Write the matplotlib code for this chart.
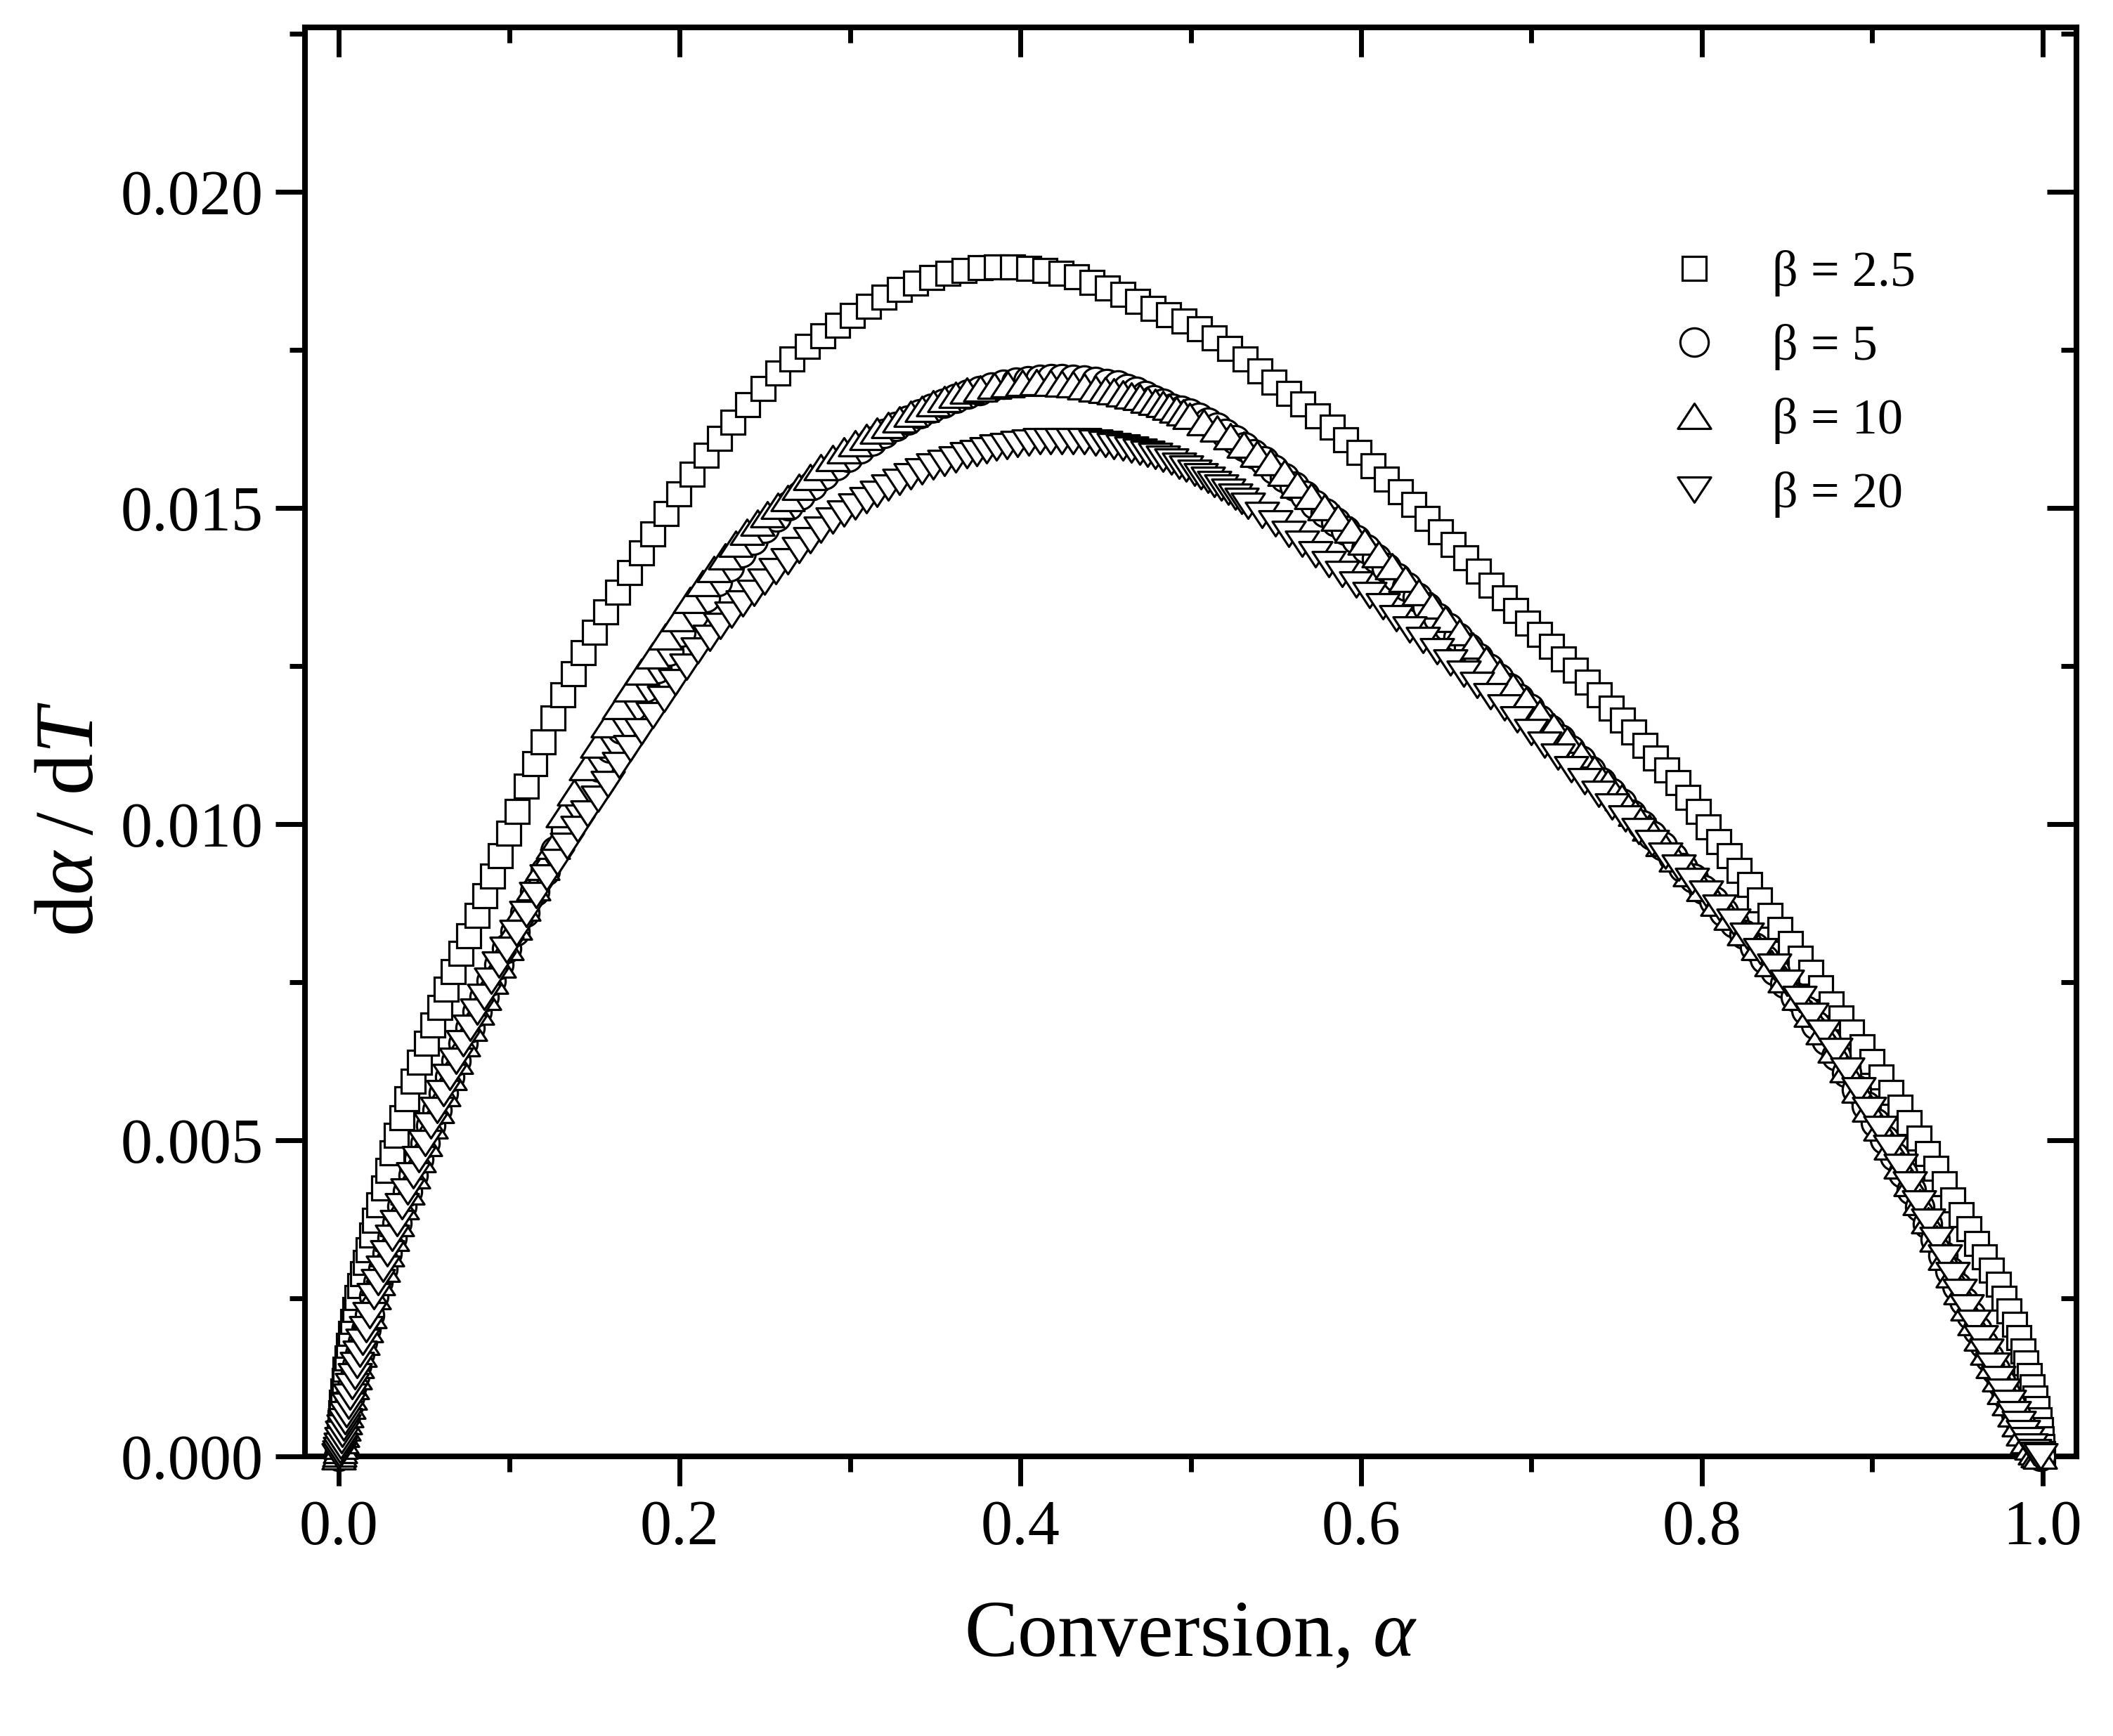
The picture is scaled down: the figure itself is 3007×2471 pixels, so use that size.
import matplotlib
matplotlib.use("Agg")
import matplotlib.pyplot as plt
from matplotlib.path import Path
from matplotlib.markers import MarkerStyle
from matplotlib.ticker import MultipleLocator, FormatStrFormatter

plt.rcParams['font.family'] = ['Liberation Serif', 'DejaVu Serif']
plt.rcParams['mathtext.fontset'] = 'custom'
plt.rcParams['mathtext.rm'] = 'Liberation Serif'
plt.rcParams['mathtext.it'] = 'Liberation Serif:italic'

# ---------------- data ----------------
labels = ["\u03b2 = 2.5", "\u03b2 = 5", "\u03b2 = 10", "\u03b2 = 20"]

alpha_b25 = [
    0.0000, 0.0001, 0.0002, 0.0004, 0.0007, 0.0011, 0.0016, 0.0022, 0.0029, 0.0037,
    0.0046, 0.0056, 0.0067, 0.0079, 0.0092, 0.0106, 0.0121, 0.0137, 0.0153, 0.0170,
    0.0190, 0.0210, 0.0235, 0.0260, 0.0285, 0.0310, 0.0338, 0.0368, 0.0400, 0.0434,
    0.0472, 0.0513, 0.0552, 0.0592, 0.0631, 0.0671, 0.0717, 0.0763, 0.0809, 0.0855,
    0.0900, 0.0945, 0.0995, 0.1045, 0.1100, 0.1150, 0.1200, 0.1258, 0.1316, 0.1375,
    0.1435, 0.1500, 0.1566, 0.1636, 0.1706, 0.1775, 0.1843, 0.1920, 0.1996, 0.2075,
    0.2154, 0.2233, 0.2312, 0.2400, 0.2489, 0.2575, 0.2660, 0.2750, 0.2839, 0.2927,
    0.3015, 0.3108, 0.3200, 0.3292, 0.3384, 0.3480, 0.3576, 0.3671, 0.3766, 0.3860,
    0.3955, 0.4050, 0.4145, 0.4240, 0.4330, 0.4420, 0.4510, 0.4600, 0.4690, 0.4780,
    0.4870, 0.4960, 0.5050, 0.5140, 0.5230, 0.5318, 0.5405, 0.5490, 0.5575, 0.5660,
    0.5745, 0.5830, 0.5910, 0.5990, 0.6070, 0.6150, 0.6230, 0.6310, 0.6390, 0.6465,
    0.6540, 0.6615, 0.6690, 0.6765, 0.6840, 0.6910, 0.6980, 0.7050, 0.7120, 0.7190,
    0.7260, 0.7330, 0.7400, 0.7470, 0.7535, 0.7600, 0.7665, 0.7730, 0.7795, 0.7860,
    0.7920, 0.7980, 0.8040, 0.8100, 0.8160, 0.8220, 0.8280, 0.8340, 0.8400, 0.8460,
    0.8520, 0.8580, 0.8640, 0.8700, 0.8760, 0.8820, 0.8880, 0.8940, 0.9000, 0.9055,
    0.9110, 0.9165, 0.9220, 0.9275, 0.9325, 0.9375, 0.9425, 0.9475, 0.9525, 0.9570,
    0.9615, 0.9660, 0.9700, 0.9740, 0.9775, 0.9805, 0.9835, 0.9860, 0.9885, 0.9905,
    0.9925, 0.9942, 0.9957, 0.9970, 0.9980, 0.9988, 0.9994, 0.9998, 1.0000,
]
rate_b25 = [
    0.00000, 0.00012, 0.00024, 0.00038, 0.00053, 0.00069, 0.00086, 0.00103, 0.00120, 0.00138,
    0.00156, 0.00175, 0.00194, 0.00213, 0.00232, 0.00251, 0.00270, 0.00289, 0.00307, 0.00327,
    0.00350, 0.00373, 0.00398, 0.00424, 0.00452, 0.00480, 0.00508, 0.00536, 0.00565, 0.00593,
    0.00623, 0.00653, 0.00682, 0.00710, 0.00739, 0.00767, 0.00795, 0.00823, 0.00855, 0.00887,
    0.00918, 0.00950, 0.00985, 0.01020, 0.01060, 0.01095, 0.01130, 0.01168, 0.01204, 0.01238,
    0.01271, 0.01303, 0.01335, 0.01367, 0.01398, 0.01429, 0.01459, 0.01491, 0.01522, 0.01553,
    0.01583, 0.01610, 0.01636, 0.01663, 0.01689, 0.01713, 0.01735, 0.01755, 0.01772, 0.01789,
    0.01804, 0.01819, 0.01833, 0.01845, 0.01856, 0.01864, 0.01871, 0.01876, 0.01880, 0.01881,
    0.01881, 0.01879, 0.01876, 0.01871, 0.01865, 0.01857, 0.01848, 0.01838, 0.01827, 0.01816,
    0.01805, 0.01795, 0.01783, 0.01769, 0.01752, 0.01735, 0.01717, 0.01699, 0.01681, 0.01664,
    0.01646, 0.01628, 0.01608, 0.01588, 0.01567, 0.01546, 0.01526, 0.01505, 0.01483, 0.01462,
    0.01442, 0.01421, 0.01400, 0.01378, 0.01358, 0.01338, 0.01318, 0.01300, 0.01281, 0.01261,
    0.01243, 0.01224, 0.01204, 0.01183, 0.01164, 0.01145, 0.01124, 0.01104, 0.01085, 0.01065,
    0.01042, 0.01020, 0.00996, 0.00972, 0.00950, 0.00927, 0.00904, 0.00880, 0.00856, 0.00833,
    0.00811, 0.00788, 0.00765, 0.00741, 0.00716, 0.00693, 0.00671, 0.00648, 0.00624, 0.00600,
    0.00576, 0.00552, 0.00528, 0.00503, 0.00479, 0.00455, 0.00431, 0.00406, 0.00382, 0.00360,
    0.00337, 0.00315, 0.00294, 0.00272, 0.00250, 0.00230, 0.00209, 0.00188, 0.00167, 0.00148,
    0.00128, 0.00110, 0.00092, 0.00075, 0.00058, 0.00042, 0.00028, 0.00015, 0.00004,
]

alpha_b5 = [
    0.0000, 0.0002, 0.0005, 0.0009, 0.0014, 0.0020, 0.0027, 0.0035, 0.0044, 0.0054,
    0.0065, 0.0078, 0.0092, 0.0107, 0.0123, 0.0140, 0.0158, 0.0178, 0.0205, 0.0230,
    0.0256, 0.0284, 0.0312, 0.0340, 0.0370, 0.0402, 0.0435, 0.0470, 0.0505, 0.0540,
    0.0575, 0.0612, 0.0650, 0.0688, 0.0728, 0.0768, 0.0810, 0.0852, 0.0895, 0.0940,
    0.0985, 0.1035, 0.1090, 0.1150, 0.1210, 0.1270, 0.1330, 0.1395, 0.1460, 0.1525,
    0.1590, 0.1655, 0.1724, 0.1795, 0.1865, 0.1935, 0.2008, 0.2080, 0.2150, 0.2220,
    0.2290, 0.2360, 0.2430, 0.2500, 0.2570, 0.2640, 0.2710, 0.2780, 0.2850, 0.2920,
    0.2990, 0.3060, 0.3130, 0.3200, 0.3270, 0.3340, 0.3410, 0.3480, 0.3550, 0.3620,
    0.3690, 0.3760, 0.3830, 0.3900, 0.3975, 0.4047, 0.4115, 0.4180, 0.4245, 0.4311,
    0.4375, 0.4440, 0.4507, 0.4574, 0.4627, 0.4680, 0.4732, 0.4784, 0.4837, 0.4890,
    0.4943, 0.4995, 0.5048, 0.5100, 0.5153, 0.5206, 0.5260, 0.5315, 0.5370, 0.5430,
    0.5490, 0.5550, 0.5610, 0.5670, 0.5730, 0.5790, 0.5850, 0.5910, 0.5970, 0.6030,
    0.6090, 0.6150, 0.6210, 0.6270, 0.6330, 0.6390, 0.6450, 0.6510, 0.6570, 0.6630,
    0.6690, 0.6750, 0.6810, 0.6870, 0.6930, 0.6990, 0.7050, 0.7110, 0.7170, 0.7230,
    0.7290, 0.7350, 0.7410, 0.7470, 0.7530, 0.7590, 0.7650, 0.7710, 0.7770, 0.7830,
    0.7890, 0.7950, 0.8010, 0.8070, 0.8130, 0.8190, 0.8250, 0.8310, 0.8370, 0.8430,
    0.8490, 0.8550, 0.8610, 0.8670, 0.8730, 0.8790, 0.8850, 0.8910, 0.8965, 0.9020,
    0.9075, 0.9130, 0.9180, 0.9230, 0.9280, 0.9325, 0.9370, 0.9415, 0.9458, 0.9500,
    0.9540, 0.9580, 0.9618, 0.9655, 0.9690, 0.9724, 0.9757, 0.9788, 0.9818, 0.9846,
    0.9872, 0.9897, 0.9920, 0.9941, 0.9960, 0.9976, 0.9988,
]
rate_b5 = [
    0.00000, 0.00004, 0.00010, 0.00017, 0.00026, 0.00036, 0.00045, 0.00055, 0.00067, 0.00080,
    0.00094, 0.00111, 0.00127, 0.00144, 0.00162, 0.00181, 0.00201, 0.00223, 0.00253, 0.00275,
    0.00297, 0.00321, 0.00345, 0.00369, 0.00395, 0.00419, 0.00444, 0.00470, 0.00496, 0.00523,
    0.00548, 0.00574, 0.00600, 0.00626, 0.00653, 0.00678, 0.00703, 0.00727, 0.00752, 0.00778,
    0.00803, 0.00830, 0.00860, 0.00893, 0.00926, 0.00958, 0.00990, 0.01025, 0.01058, 0.01090,
    0.01120, 0.01150, 0.01185, 0.01215, 0.01245, 0.01273, 0.01303, 0.01331, 0.01358, 0.01383,
    0.01407, 0.01429, 0.01449, 0.01468, 0.01486, 0.01503, 0.01520, 0.01536, 0.01552, 0.01567,
    0.01580, 0.01593, 0.01606, 0.01618, 0.01629, 0.01639, 0.01649, 0.01658, 0.01666, 0.01673,
    0.01680, 0.01686, 0.01691, 0.01695, 0.01699, 0.01701, 0.01703, 0.01704, 0.01704, 0.01703,
    0.01702, 0.01700, 0.01697, 0.01694, 0.01689, 0.01684, 0.01678, 0.01671, 0.01665, 0.01658,
    0.01654, 0.01650, 0.01643, 0.01636, 0.01628, 0.01618, 0.01608, 0.01597, 0.01586, 0.01574,
    0.01561, 0.01548, 0.01534, 0.01520, 0.01506, 0.01492, 0.01478, 0.01464, 0.01450, 0.01435,
    0.01420, 0.01405, 0.01390, 0.01375, 0.01359, 0.01343, 0.01327, 0.01311, 0.01295, 0.01279,
    0.01263, 0.01247, 0.01231, 0.01215, 0.01199, 0.01183, 0.01166, 0.01150, 0.01134, 0.01118,
    0.01101, 0.01084, 0.01067, 0.01050, 0.01033, 0.01016, 0.00999, 0.00982, 0.00965, 0.00948,
    0.00931, 0.00914, 0.00897, 0.00879, 0.00861, 0.00843, 0.00825, 0.00806, 0.00787, 0.00768,
    0.00748, 0.00727, 0.00705, 0.00682, 0.00658, 0.00633, 0.00607, 0.00580, 0.00554, 0.00528,
    0.00501, 0.00474, 0.00448, 0.00421, 0.00394, 0.00368, 0.00343, 0.00318, 0.00293, 0.00269,
    0.00246, 0.00223, 0.00200, 0.00178, 0.00157, 0.00137, 0.00117, 0.00098, 0.00081, 0.00065,
    0.00050, 0.00036, 0.00024, 0.00014, 0.00007, 0.00002, 0.00000,
]

alpha_b10 = [
    0.0000, 0.0002, 0.0005, 0.0009, 0.0014, 0.0020, 0.0027, 0.0035, 0.0044, 0.0054,
    0.0065, 0.0078, 0.0092, 0.0107, 0.0123, 0.0140, 0.0158, 0.0178, 0.0205, 0.0230,
    0.0256, 0.0284, 0.0312, 0.0340, 0.0370, 0.0402, 0.0435, 0.0470, 0.0505, 0.0540,
    0.0575, 0.0612, 0.0650, 0.0688, 0.0728, 0.0768, 0.0810, 0.0852, 0.0895, 0.0940,
    0.0985, 0.1035, 0.1085, 0.1140, 0.1195, 0.1255, 0.1316, 0.1380, 0.1450, 0.1515,
    0.1580, 0.1645, 0.1710, 0.1775, 0.1843, 0.1915, 0.1990, 0.2060, 0.2133, 0.2200,
    0.2265, 0.2330, 0.2396, 0.2455, 0.2515, 0.2575, 0.2633, 0.2700, 0.2765, 0.2830,
    0.2897, 0.2963, 0.3030, 0.3095, 0.3160, 0.3225, 0.3290, 0.3357, 0.3424, 0.3490,
    0.3555, 0.3620, 0.3687, 0.3765, 0.3845, 0.3927, 0.4010, 0.4095, 0.4179, 0.4245,
    0.4310, 0.4376, 0.4442, 0.4497, 0.4550, 0.4602, 0.4653, 0.4700, 0.4745, 0.4790,
    0.4837, 0.4876, 0.4915, 0.4955, 0.4995, 0.5075, 0.5153, 0.5232, 0.5311, 0.5390,
    0.5470, 0.5550, 0.5627, 0.5706, 0.5786, 0.5865, 0.5944, 0.6023, 0.6102, 0.6181,
    0.6260, 0.6340, 0.6418, 0.6497, 0.6576, 0.6655, 0.6734, 0.6813, 0.6892, 0.6971,
    0.7050, 0.7130, 0.7208, 0.7290, 0.7370, 0.7450, 0.7530, 0.7610, 0.7690, 0.7770,
    0.7850, 0.7930, 0.8010, 0.8090, 0.8170, 0.8250, 0.8330, 0.8410, 0.8490, 0.8570,
    0.8640, 0.8710, 0.8780, 0.8850, 0.8920, 0.8985, 0.9050, 0.9110, 0.9170, 0.9225,
    0.9280, 0.9330, 0.9380, 0.9430, 0.9475, 0.9520, 0.9560, 0.9600, 0.9640, 0.9675,
    0.9710, 0.9745, 0.9775, 0.9805, 0.9835, 0.9862, 0.9888, 0.9912, 0.9935, 0.9955,
    0.9972, 0.9985,
]
rate_b10 = [
    0.00000, 0.00004, 0.00010, 0.00017, 0.00026, 0.00036, 0.00045, 0.00055, 0.00067, 0.00080,
    0.00094, 0.00111, 0.00127, 0.00144, 0.00162, 0.00181, 0.00201, 0.00223, 0.00253, 0.00275,
    0.00297, 0.00321, 0.00345, 0.00369, 0.00395, 0.00419, 0.00444, 0.00470, 0.00496, 0.00523,
    0.00548, 0.00574, 0.00600, 0.00626, 0.00653, 0.00678, 0.00703, 0.00727, 0.00752, 0.00778,
    0.00805, 0.00838, 0.00868, 0.00900, 0.00932, 0.00965, 0.01015, 0.01050, 0.01090, 0.01125,
    0.01158, 0.01187, 0.01214, 0.01241, 0.01267, 0.01297, 0.01326, 0.01354, 0.01381, 0.01403,
    0.01423, 0.01443, 0.01462, 0.01477, 0.01490, 0.01503, 0.01515, 0.01533, 0.01549, 0.01564,
    0.01579, 0.01591, 0.01602, 0.01612, 0.01622, 0.01631, 0.01640, 0.01649, 0.01657, 0.01665,
    0.01672, 0.01679, 0.01685, 0.01689, 0.01693, 0.01696, 0.01698, 0.01699, 0.01698, 0.01697,
    0.01695, 0.01692, 0.01689, 0.01687, 0.01684, 0.01681, 0.01678, 0.01675, 0.01671, 0.01668,
    0.01664, 0.01660, 0.01655, 0.01651, 0.01646, 0.01636, 0.01625, 0.01613, 0.01600, 0.01586,
    0.01572, 0.01555, 0.01537, 0.01519, 0.01501, 0.01484, 0.01466, 0.01447, 0.01427, 0.01408,
    0.01388, 0.01367, 0.01345, 0.01324, 0.01303, 0.01282, 0.01260, 0.01239, 0.01218, 0.01197,
    0.01175, 0.01154, 0.01133, 0.01110, 0.01088, 0.01065, 0.01042, 0.01018, 0.00994, 0.00970,
    0.00946, 0.00922, 0.00899, 0.00876, 0.00853, 0.00829, 0.00805, 0.00780, 0.00754, 0.00727,
    0.00700, 0.00672, 0.00643, 0.00612, 0.00580, 0.00550, 0.00520, 0.00490, 0.00460, 0.00432,
    0.00402, 0.00373, 0.00344, 0.00315, 0.00288, 0.00261, 0.00236, 0.00212, 0.00188, 0.00166,
    0.00144, 0.00123, 0.00103, 0.00085, 0.00068, 0.00052, 0.00038, 0.00026, 0.00016, 0.00008,
    0.00003, 0.00001,
]

alpha_b20 = [
    0.0000, 0.0002, 0.0005, 0.0009, 0.0014, 0.0020, 0.0027, 0.0035, 0.0044, 0.0054,
    0.0065, 0.0078, 0.0092, 0.0107, 0.0123, 0.0140, 0.0158, 0.0178, 0.0205, 0.0230,
    0.0256, 0.0284, 0.0312, 0.0340, 0.0370, 0.0402, 0.0435, 0.0470, 0.0505, 0.0540,
    0.0575, 0.0612, 0.0650, 0.0688, 0.0728, 0.0768, 0.0810, 0.0852, 0.0895, 0.0940,
    0.0985, 0.1040, 0.1100, 0.1158, 0.1220, 0.1280, 0.1340, 0.1400, 0.1460, 0.1520,
    0.1580, 0.1645, 0.1710, 0.1775, 0.1843, 0.1910, 0.1975, 0.2040, 0.2107, 0.2175,
    0.2240, 0.2305, 0.2370, 0.2435, 0.2500, 0.2565, 0.2633, 0.2700, 0.2765, 0.2830,
    0.2897, 0.2963, 0.3030, 0.3095, 0.3160, 0.3225, 0.3290, 0.3357, 0.3424, 0.3490,
    0.3555, 0.3620, 0.3687, 0.3745, 0.3800, 0.3860, 0.3920, 0.3985, 0.4050, 0.4115,
    0.4179, 0.4245, 0.4310, 0.4376, 0.4442, 0.4497, 0.4550, 0.4602, 0.4653, 0.4700,
    0.4745, 0.4790, 0.4837, 0.4885, 0.4930, 0.4975, 0.5022, 0.5060, 0.5100, 0.5140,
    0.5180, 0.5220, 0.5260, 0.5300, 0.5338, 0.5417, 0.5496, 0.5575, 0.5654, 0.5733,
    0.5812, 0.5891, 0.5970, 0.6050, 0.6128, 0.6207, 0.6286, 0.6365, 0.6444, 0.6523,
    0.6602, 0.6681, 0.6760, 0.6840, 0.6918, 0.6997, 0.7076, 0.7155, 0.7235, 0.7314,
    0.7393, 0.7472, 0.7551, 0.7630, 0.7709, 0.7788, 0.7867, 0.7945, 0.8025, 0.8105,
    0.8185, 0.8265, 0.8345, 0.8425, 0.8500, 0.8575, 0.8645, 0.8715, 0.8785, 0.8855,
    0.8920, 0.8985, 0.9048, 0.9108, 0.9168, 0.9222, 0.9277, 0.9328, 0.9378, 0.9427,
    0.9472, 0.9517, 0.9557, 0.9597, 0.9637, 0.9672, 0.9707, 0.9742, 0.9772, 0.9802,
    0.9832, 0.9860, 0.9886, 0.9910, 0.9933, 0.9953, 0.9970, 0.9990,
]
rate_b20 = [
    0.00000, 0.00004, 0.00010, 0.00017, 0.00026, 0.00036, 0.00045, 0.00055, 0.00067, 0.00080,
    0.00094, 0.00111, 0.00127, 0.00144, 0.00162, 0.00181, 0.00201, 0.00223, 0.00253, 0.00275,
    0.00297, 0.00321, 0.00345, 0.00369, 0.00395, 0.00419, 0.00444, 0.00470, 0.00496, 0.00523,
    0.00548, 0.00574, 0.00600, 0.00626, 0.00653, 0.00678, 0.00703, 0.00727, 0.00752, 0.00778,
    0.00801, 0.00828, 0.00858, 0.00888, 0.00915, 0.00940, 0.00966, 0.00992, 0.01017, 0.01040,
    0.01063, 0.01093, 0.01120, 0.01147, 0.01172, 0.01198, 0.01224, 0.01249, 0.01274, 0.01294,
    0.01313, 0.01331, 0.01349, 0.01366, 0.01383, 0.01400, 0.01416, 0.01433, 0.01449, 0.01465,
    0.01480, 0.01491, 0.01502, 0.01512, 0.01522, 0.01532, 0.01541, 0.01550, 0.01558, 0.01565,
    0.01571, 0.01577, 0.01583, 0.01587, 0.01591, 0.01595, 0.01598, 0.01601, 0.01603, 0.01605,
    0.01606, 0.01606, 0.01606, 0.01605, 0.01603, 0.01601, 0.01598, 0.01595, 0.01592, 0.01589,
    0.01585, 0.01582, 0.01578, 0.01573, 0.01567, 0.01562, 0.01556, 0.01550, 0.01544, 0.01538,
    0.01532, 0.01525, 0.01518, 0.01511, 0.01503, 0.01489, 0.01475, 0.01459, 0.01443, 0.01427,
    0.01411, 0.01395, 0.01379, 0.01362, 0.01344, 0.01326, 0.01308, 0.01291, 0.01273, 0.01256,
    0.01238, 0.01220, 0.01202, 0.01184, 0.01165, 0.01146, 0.01126, 0.01107, 0.01087, 0.01068,
    0.01048, 0.01028, 0.01009, 0.00989, 0.00970, 0.00950, 0.00931, 0.00910, 0.00890, 0.00868,
    0.00846, 0.00823, 0.00799, 0.00774, 0.00749, 0.00723, 0.00697, 0.00670, 0.00641, 0.00610,
    0.00579, 0.00548, 0.00518, 0.00488, 0.00458, 0.00430, 0.00400, 0.00371, 0.00342, 0.00314,
    0.00287, 0.00260, 0.00235, 0.00211, 0.00187, 0.00165, 0.00143, 0.00122, 0.00102, 0.00084,
    0.00067, 0.00051, 0.00037, 0.00025, 0.00015, 0.00007, 0.00002, 0.00000,
]

x_ticks = [0.0, 0.2, 0.4, 0.6, 0.8, 1.0]
y_ticks = [0.000, 0.005, 0.010, 0.015, 0.020]

# ---------------- figure ----------------
fig = plt.figure(figsize=(30.07, 24.71), dpi=100)
ax = fig.add_axes([0.14433, 0.16107, 0.83838, 0.82315])

tri_up = MarkerStyle(Path([(-1, -0.76), (1, -0.76), (0, 0.76), (0, 0)], closed=True), joinstyle='miter')
tri_dn = MarkerStyle(Path([(-1, 0.76), (1, 0.76), (0, -0.76), (0, 0)], closed=True), joinstyle='miter')
sq = MarkerStyle('s', joinstyle='miter')

series = [
    (alpha_b25, rate_b25, sq, 24.0),
    (alpha_b5, rate_b5, 'o', 29.0),
    (alpha_b10, rate_b10, tri_up, 34.0),
    (alpha_b20, rate_b20, tri_dn, 34.0),
]
for (a, r, m, ms), lab in zip(series, labels):
    ax.plot(a, r, linestyle='none', marker=m, markersize=ms,
            markerfacecolor='white', markeredgecolor='black', markeredgewidth=2.3,
            clip_on=False, zorder=3, label=lab)

ax.set_xlim(-0.02, 1.02)
ax.set_ylim(0.0, 0.0226)
ax.set_xticks(x_ticks)
ax.set_yticks(y_ticks)
ax.xaxis.set_minor_locator(MultipleLocator(0.1))
ax.yaxis.set_minor_locator(MultipleLocator(0.0025))
ax.xaxis.set_major_formatter(FormatStrFormatter('%.1f'))
ax.yaxis.set_major_formatter(FormatStrFormatter('%.3f'))

for sp in ax.spines.values():
    sp.set_linewidth(5.8)

ax.tick_params(which='both', direction='out', top=False, right=False, width=5, labelsize=65)
ax.tick_params(which='major', length=30)
ax.tick_params(which='minor', length=16)
ax.tick_params(axis='x', pad=14)
ax.tick_params(axis='y', pad=13)

# inward ticks on top and right
secx = ax.secondary_xaxis('top')
secx.set_xticks(x_ticks)
secx.xaxis.set_minor_locator(MultipleLocator(0.1))
secx.tick_params(which='both', direction='in', width=5, labeltop=False)
secx.tick_params(which='major', length=30)
secx.tick_params(which='minor', length=16)
secy = ax.secondary_yaxis('right')
secy.set_yticks(y_ticks)
secy.yaxis.set_minor_locator(MultipleLocator(0.0025))
secy.tick_params(which='both', direction='in', width=5, labelright=False)
secy.tick_params(which='major', length=30)
secy.tick_params(which='minor', length=16)
for s in (secx, secy):
    for sp in s.spines.values():
        sp.set_linewidth(5.8)

ax.set_xlabel("Conversion, $\\alpha$", fontsize=82)
ax.xaxis.set_label_coords(0.5, -0.1005)
ax.set_ylabel("$\\mathrm{d}\\alpha\\;/\\;\\mathrm{d}T$", fontsize=85)
ax.yaxis.set_label_coords(-0.110, 0.446)

ax.legend(loc='upper left', bbox_to_anchor=(0.7698, 0.844), frameon=False,
          fontsize=52, handlelength=1.0, handletextpad=1.04, labelspacing=0.54,
          borderpad=0, borderaxespad=0, numpoints=1)

fig.savefig('out.png', dpi=100)
